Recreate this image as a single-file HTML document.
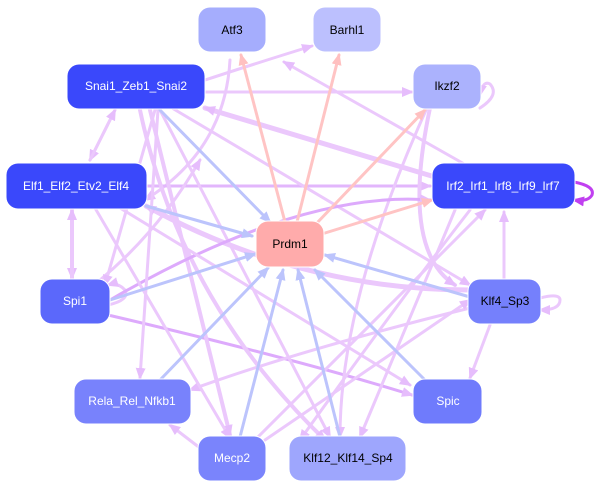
<!DOCTYPE html>
<html><head><meta charset="utf-8"><style>
html,body{margin:0;padding:0;background:#fff;width:607px;height:489px;overflow:hidden}
svg{display:block}
text{font-family:"Liberation Sans",sans-serif;font-size:12px;text-anchor:middle;dominant-baseline:central}
</style></head><body>
<svg width="607" height="489" viewBox="0 0 607 489">
<defs>
<marker id="mp" markerWidth="12" markerHeight="10" refX="10" refY="5" orient="auto" markerUnits="userSpaceOnUse"><path d="M0,0L12,5L0,10z" fill="#e6bdfc"/></marker>
<marker id="mq" markerWidth="12" markerHeight="10" refX="10" refY="5" orient="auto" markerUnits="userSpaceOnUse"><path d="M0,0L12,5L0,10z" fill="#dcaafc"/></marker>
<marker id="mb" markerWidth="12" markerHeight="10" refX="10" refY="5" orient="auto" markerUnits="userSpaceOnUse"><path d="M0,0L12,5L0,10z" fill="#bcc4fc"/></marker>
<marker id="mr" markerWidth="12" markerHeight="10" refX="10" refY="5" orient="auto" markerUnits="userSpaceOnUse"><path d="M0,0L12,5L0,10z" fill="#ffc0c0"/></marker>
<marker id="md" markerWidth="12" markerHeight="10" refX="10" refY="5" orient="auto" markerUnits="userSpaceOnUse"><path d="M0,0L12,5L0,10z" fill="#c040f0"/></marker>
</defs>
<g fill="none" stroke-linecap="round">
<!-- purple edges -->
<g stroke="#ebc8fc" stroke-width="3" marker-end="url(#mp)">
<path d="M199,82 Q260,62 312,46"/>
<path d="M199,92 L412,92"/>
<path d="M465,186 L205,108" stroke-width="5"/>
<path d="M466,165 L284,62"/>
<path d="M230,60 Q225,150 145,200"/>
<path d="M115,110 L90,160"/>
<path d="M90,160 L115,110"/>
<path d="M146,186 L430,186" stroke="#e2b6fc"/>
<path d="M72,208 L72,278" stroke-width="4"/>
<path d="M72,278 L72,210" stroke-width="4"/>
<path d="M108,305 Q130,300 125,290 Q118,282 108,285"/>
<path d="M108,315 Q300,360 412,395" stroke="#ddaafc"/>
<path d="M470,308 Q300,350 190,390"/>
<path d="M490,325 L470,378"/>
<path d="M504,280 L504,212"/>
<path d="M540,298 Q560,293 560,300 Q560,310 540,310"/>
<path d="M470,290 Q300,290 146,206" stroke-width="5"/>
<path d="M150,110 L230,435" stroke-width="4"/>
<path d="M160,110 L330,437" stroke-width="3"/>
<path d="M140,110 Q180,300 325,440" stroke-width="4"/>
<path d="M172,108 L470,285"/>
<path d="M430,108 Q400,250 455,285" stroke-width="4"/>
<path d="M427,108 Q340,300 340,437"/>
<path d="M455,210 L360,437"/>
<path d="M470,210 Q400,300 300,440"/>
<path d="M265,440 L470,300"/>
<path d="M255,440 L485,210"/>
<path d="M200,448 L170,425"/>
<path d="M110,300 Q300,190 430,200" stroke="#ddaafc"/>
<path d="M100,280 Q160,230 200,160"/>
<path d="M155,110 L105,285"/>
<path d="M158,110 L140,378"/>
<path d="M95,208 L230,438"/>
<path d="M120,208 L410,385"/>
<path d="M480,108 Q500,95 490,84 Q483,80 480,95"/>
</g>
<path d="M574,182 Q595,186 592,195 Q588,202 574,200" stroke="#c040f0" stroke-width="3" marker-end="url(#md)"/>
<!-- blue edges -->
<g stroke="#bcc4fc" stroke-width="3" marker-end="url(#mb)">
<path d="M160,110 L270,222"/>
<path d="M146,206 L252,236"/>
<path d="M110,300 L255,254"/>
<path d="M160,380 L268,268"/>
<path d="M240,437 L283,270"/>
<path d="M340,437 L298,270"/>
<path d="M425,380 L315,270"/>
<path d="M470,297 L325,255"/>
</g>
<!-- pink edges -->
<g stroke="#ffc4c4" stroke-width="3" marker-end="url(#mr)">
<path d="M285,222 L241,55"/>
<path d="M297,222 L339,55"/>
<path d="M315,225 L425,110"/>
<path d="M325,233 L432,200"/>
</g>
</g>
<!-- nodes -->
<g stroke="#fff" stroke-width="1">
<rect x="198" y="7" width="68" height="45" rx="12" fill="#a5adfd"/>
<rect x="313" y="7" width="68" height="45" rx="12" fill="#bcc0fe"/>
<rect x="67" y="64" width="138" height="45" rx="12" fill="#3a48fb"/>
<rect x="413" y="64" width="68" height="45" rx="12" fill="#abb2fd"/>
<rect x="6" y="163" width="141" height="46" rx="12" fill="#3a48fb"/>
<rect x="432" y="163" width="143" height="46" rx="12" fill="#3a48fb"/>
<rect x="256" y="221" width="68" height="46" rx="12" fill="#ffabab"/>
<rect x="40" y="279" width="70" height="45" rx="12" fill="#5b68fb"/>
<rect x="468" y="279" width="73" height="45" rx="12" fill="#7580fc"/>
<rect x="74" y="379" width="117" height="45" rx="12" fill="#7882fc"/>
<rect x="413" y="379" width="69" height="45" rx="12" fill="#6f7bfc"/>
<rect x="198" y="436" width="68" height="45" rx="12" fill="#7a84fc"/>
<rect x="289" y="436" width="117" height="45" rx="12" fill="#9ea6fd"/>
</g>
<g>
<text x="232" y="30" fill="#000">Atf3</text>
<text x="347" y="30" fill="#000">Barhl1</text>
<text x="136" y="86" fill="#fff">Snai1_Zeb1_Snai2</text>
<text x="447" y="86" fill="#000">Ikzf2</text>
<text x="76" y="186" fill="#fff">Elf1_Elf2_Etv2_Elf4</text>
<text x="503" y="186" fill="#fff">Irf2_Irf1_Irf8_Irf9_Irf7</text>
<text x="290" y="244" fill="#000">Prdm1</text>
<text x="75" y="301" fill="#fff">Spi1</text>
<text x="505" y="301" fill="#000">Klf4_Sp3</text>
<text x="132" y="401" fill="#fff">Rela_Rel_Nfkb1</text>
<text x="448" y="401" fill="#fff">Spic</text>
<text x="232" y="458" fill="#fff">Mecp2</text>
<text x="348" y="458" fill="#000">Klf12_Klf14_Sp4</text>
</g>
</svg>
</body></html>
